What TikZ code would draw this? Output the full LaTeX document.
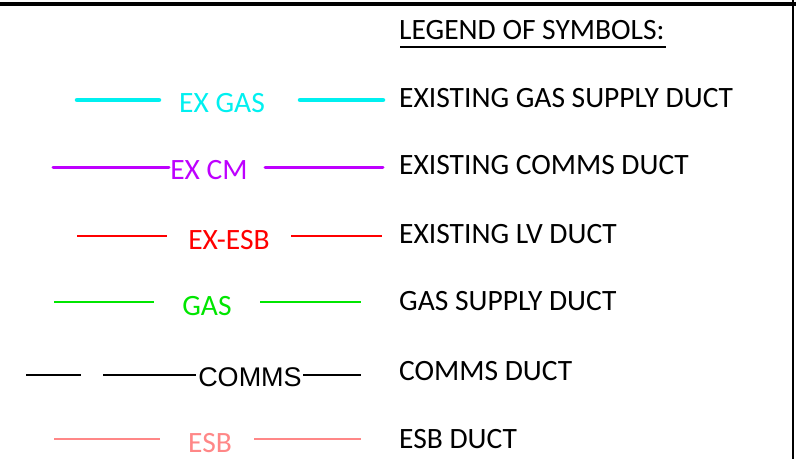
\documentclass[tikz,border=0pt]{standalone}
\usepackage{fontspec}
\setmainfont{Carlito}
\newfontfamily\arialfont{Liberation Sans}
\begin{document}
\begin{tikzpicture}[x=1pt,y=-1pt,
  desc/.style={anchor=west,inner sep=0pt,font=\fontsize{29.5}{32}\selectfont},
  lbl/.style={inner sep=0pt,font=\fontsize{29.5}{32}\selectfont},
  duct/.style={line cap=round}]
\useasboundingbox (0,0) rectangle (796,459);
\fill[white] (0,0) rectangle (796,459);
\coordinate (tl) at (0,4);
\coordinate (tr) at (796,4);
\coordinate (rt) at (793,0);
\coordinate (rb) at (793,459);
\draw[line width=3.5pt] (tl) -- (tr);
\draw[line width=2pt] (rt) -- (rb);
% title
\node[desc] (title) at (399,30) {LEGEND OF SYMBOLS:};
\coordinate (ul1) at (400,47);
\coordinate (ul2) at (666,47);
\draw[line width=1.8pt] (ul1) -- (ul2);
% row 1
\definecolor{excyan}{RGB}{0,240,240}
\coordinate (a1) at (77,100); \coordinate (a2) at (159,100);
\coordinate (a3) at (300,100); \coordinate (a4) at (383,100);
\draw[duct,excyan,line width=4.5pt] (a1) -- (a2) (a3) -- (a4);
\node[lbl,text=excyan] (l1) at (222,103) {EX GAS};
\node[desc] (d1) at (399,98) {EXISTING GAS SUPPLY DUCT};
% row 2
\definecolor{exmag}{RGB}{190,0,255}
\coordinate (b1) at (53,167); \coordinate (b2) at (169,167);
\coordinate (b3) at (265,167); \coordinate (b4) at (383,167);
\draw[duct,exmag,line width=3pt] (b1) -- (b2) (b3) -- (b4);
\node[lbl,text=exmag] (l2) at (209,170) {EX CM};
\node[desc] (d2) at (399,165) {EXISTING COMMS DUCT};
% row 3
\coordinate (c1) at (77,236); \coordinate (c2) at (167,236);
\coordinate (c3) at (291,236); \coordinate (c4) at (382,236);
\draw[red,line width=1.7pt] (c1) -- (c2) (c3) -- (c4);
\node[lbl,text=red] (l3) at (229,240) {EX-ESB};
\node[desc] (d3) at (399,234) {EXISTING LV DUCT};
% row 4
\definecolor{newgreen}{RGB}{0,230,0}
\coordinate (e1) at (54,302); \coordinate (e2) at (154,302);
\coordinate (e3) at (260,302); \coordinate (e4) at (361,302);
\draw[newgreen,line width=2.8pt] (e1) -- (e2) (e3) -- (e4);
\node[lbl,text=newgreen] (l4) at (207,306) {GAS};
\node[desc] (d4) at (399,301) {GAS SUPPLY DUCT};
% row 5
\coordinate (f1) at (26,375); \coordinate (f2) at (81,375);
\coordinate (f3) at (103,375); \coordinate (f4) at (196,375);
\coordinate (f5) at (303,375); \coordinate (f6) at (361,375);
\draw[line width=2.8pt] (f1) -- (f2) (f3) -- (f4) (f5) -- (f6);
\node[lbl,font=\arialfont\fontsize{27}{30}\selectfont] (l5) at (250,377) {COMMS};
\node[desc] (d5) at (399,371) {COMMS DUCT};
% row 6
\definecolor{esbpink}{RGB}{255,135,135}
\coordinate (g1) at (54,439); \coordinate (g2) at (160,439);
\coordinate (g3) at (254,439); \coordinate (g4) at (361,439);
\draw[esbpink,line width=2.8pt] (g1) -- (g2) (g3) -- (g4);
\node[lbl,text=esbpink] (l6) at (210,443) {ESB};
\node[desc] (d6) at (399,439) {ESB DUCT};
\end{tikzpicture}
\end{document}
